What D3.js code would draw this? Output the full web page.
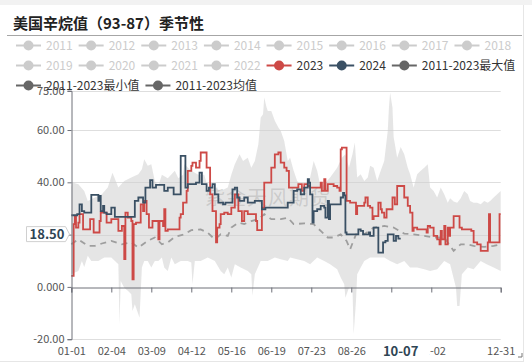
<!DOCTYPE html>
<html>
<head>
<meta charset="utf-8">
<script src="https://cdn.jsdelivr.net/npm/d3@7/dist/d3.min.js"></script>
<style>
html, body { margin: 0; padding: 0; background: #fff; }
svg { display: block; font-family: "Noto Sans CJK SC", "Noto Sans", sans-serif; }
</style>
</head>
<body>
<svg id="chart" width="532" height="363"></svg>
<script>
// categories: every day of a (leap) year as MM-DD
var days = d3.timeDays(new Date(2024, 0, 1), new Date(2025, 0, 1)).map(d3.timeFormat('%m-%d'));

// series values as [day index, value]
var s2023 = [[0,4.2],[2,24],[3,27.1],[4,22.7],[6,24.6],[7,27.8],[9,27.8],[10,22],[14,22],[16,25.9],[19,20.8],[23,20.8],[24,25.2],[25,28.4],[28,28.4],[30,24.6],[34,25.9],[38,25.9],[40,21.4],[43,23.3],[45,10.6],[46,28.4],[48,26.5],[51,25.2],[52,2.9],[53,24],[55,24.6],[59,31.6],[61,29],[62,32.9],[64,27.8],[66,22.7],[69,25.2],[72,25.2],[74,18.2],[75,25.2],[78,23.3],[79,29.7],[80,21.4],[82,22],[91,22],[92,26.5],[93,27.8],[95,32.2],[98,36.7],[99,44.4],[102,46.3],[103,47.5],[106,45.6],[109,48.2],[110,51.4],[113,51.4],[115,45.6],[118,35.4],[120,29],[123,17],[124,22.7],[126,24],[127,27.8],[130,28.4],[133,27.8],[136,30.3],[139,35.4],[142,29],[145,25.2],[147,29],[150,27.8],[155,27.8],[157,25.2],[158,21.7],[161,21.7],[162,30.3],[164,39.9],[167,39.9],[170,45.6],[173,50.7],[176,51.4],[178,47.5],[181,45.6],[183,44.4],[185,38],[193,39.3],[196,36.7],[198,39.3],[201,38.6],[203,38],[209,38],[212,39.9],[213,36.7],[215,41.2],[216,36.7],[218,39.3],[223,38.6],[226,38],[228,36.7],[229,52.6],[230,53.3],[233,53.3],[234,32.9],[237,32.2],[242,27.8],[243,31],[249,32.2],[250,34.2],[252,31],[254,30.3],[256,25.9],[257,27.1],[261,32.2],[263,29.7],[264,28.4],[266,26.5],[268,29.7],[273,34.2],[275,31.6],[277,38.6],[281,38.6],[283,34.2],[286,31],[288,28.4],[290,21.4],[291,22.7],[294,22],[302,20.8],[303,23.3],[305,22.7],[308,19.5],[311,18.2],[313,16.3],[314,21.4],[315,18.2],[317,23.3],[318,16.3],[320,22.7],[321,19.5],[322,22.7],[325,27.1],[328,27.1],[330,22.7],[332,22],[340,21.4],[342,17],[345,16.3],[348,13.8],[352,13.8],[354,17],[355,27.8],[356,17],[363,17],[364,27.8],[365,27.8]];
var s2024 = [[0,27.4],[5,27.8],[7,31.6],[9,29],[11,28.4],[16,28.4],[17,35.2],[22,35.2],[23,32.9],[24,34.8],[25,29],[27,31],[28,28.4],[30,27.8],[34,30.3],[37,26.8],[51,26.8],[54,32.9],[57,34.2],[61,32.2],[63,38],[67,40.8],[69,38],[72,39],[79,36.7],[82,38],[87,35.4],[93,50.1],[97,38],[99,39.3],[106,39.9],[109,43.7],[111,39.3],[115,36.7],[117,38],[120,39.3],[122,35.4],[125,32.2],[129,31.6],[131,32.2],[137,37.3],[139,38],[141,34.2],[143,32.9],[147,34.2],[150,32.2],[156,32.9],[162,29.7],[165,30.3],[180,30.3],[184,32.2],[189,36.7],[192,37.3],[195,35.4],[198,38],[201,41.2],[202,39.9],[203,35.4],[205,24.6],[206,29],[209,29.7],[212,31],[215,30.3],[216,26.5],[218,32.9],[219,25.9],[220,31.6],[226,31.6],[229,34.2],[231,36],[232,35],[233,20.8],[234,20.1],[244,22],[246,21.4],[248,20.1],[253,20.8],[254,19.5],[257,22.7],[261,13.1],[265,17],[267,17.6],[269,20.1],[272,20.1],[274,17.6],[276,19.5],[278,18.5],[280,18.5]];
var sMean = [[0,16.3],[6,18.2],[14,15.7],[20,15.7],[26,16.6],[34,17.6],[43,16.3],[51,17],[57,15],[65,17.6],[71,18.9],[77,16.3],[82,17],[88,19.1],[96,20.1],[102,21.7],[110,22],[116,20.7],[122,18.2],[127,20.1],[133,19.5],[136,22.7],[142,24.6],[147,24],[153,25.2],[159,25.9],[164,27.8],[170,25.9],[178,25.9],[184,26.5],[189,24],[198,24.3],[206,24],[212,21.4],[218,18.9],[223,18.9],[229,20.1],[234,17.6],[237,14.4],[242,20.1],[249,20.1],[257,22.7],[266,23.3],[274,22.7],[283,20.4],[291,20.1],[300,19.5],[308,18.9],[317,18.9],[325,13.8],[331,16.3],[336,16.3],[342,15.7],[351,15.3],[359,15.7],[365,16.3]];
var sMax = [[0,38],[1,39.9],[6,39.3],[11,36.7],[14,32.9],[20,34.2],[26,35.4],[31,38],[35,43.7],[40,38],[45,40.5],[51,41.8],[57,43.1],[60,45],[62,48.8],[65,46.3],[68,46.9],[71,40.5],[74,38.6],[77,42.9],[82,41.6],[88,44.4],[91,41.6],[95,42.9],[96,46.9],[102,44.4],[108,42.9],[113,42.9],[116,38],[122,38],[127,36.7],[133,38],[136,42.9],[139,46.9],[143,50.7],[146,48.2],[150,49.4],[153,45.6],[156,48.2],[159,54.6],[161,64.8],[163,66],[164,72.4],[166,68.6],[167,67.3],[170,67.3],[173,63.5],[176,61],[178,59.7],[181,55.8],[184,48.2],[186,49.4],[189,44.4],[192,40.5],[195,39.3],[198,38],[201,40.5],[203,41.8],[206,48.2],[209,44.4],[212,38],[215,39.3],[220,41.8],[226,45.6],[230,49.4],[233,50.7],[236,45.6],[239,50.7],[241,55.2],[243,41.8],[246,43.1],[249,40.5],[252,41.8],[254,46.3],[257,45.6],[260,40.5],[263,44.4],[266,48.2],[269,59.7],[270,68.6],[271,74.3],[273,68.6],[274,57.3],[277,49.4],[280,53.5],[283,50.7],[286,45.6],[288,43.1],[291,38],[294,43.1],[297,44.4],[300,45.6],[303,46.9],[305,38],[308,36.7],[311,34.2],[314,38],[317,35.4],[320,32.2],[322,33.9],[325,32.7],[328,32.2],[331,33.9],[334,36.7],[337,35.4],[339,32.9],[342,32.2],[345,32.2],[348,31.6],[351,32.9],[354,32.2],[356,32.9],[359,34.2],[362,35.4],[365,36.7]];
var sMin = [[0,4.8],[3,5.5],[6,6.1],[9,9.9],[11,7.6],[14,11.9],[17,9.9],[23,9.9],[28,11.2],[34,11.2],[40,8.7],[41,-14.3],[42,2.3],[45,-0.3],[48,-1.5],[51,-2.8],[52,-9.2],[54,-6.6],[57,-10.5],[58,-11.8],[60,7.4],[62,9.9],[65,9.9],[68,7.4],[71,9.9],[74,9.9],[77,11.2],[79,7.4],[82,6.1],[85,11.2],[88,8.7],[93,9.9],[99,9.9],[102,9.3],[103,1],[105,9.9],[110,9.9],[116,11.2],[122,9.9],[127,6.1],[130,4.8],[133,7.4],[136,3.6],[139,8.7],[144,7.4],[150,6.1],[153,4.8],[154,-3.4],[156,4.8],[161,9.9],[167,9.9],[173,11.2],[178,10.6],[184,9.9],[186,11.2],[192,10.6],[198,9.9],[203,8.7],[209,11.2],[215,9.9],[220,8.7],[226,6.8],[229,3.6],[232,1],[233,-4.1],[236,-0.3],[239,-0.3],[240,-18.1],[242,-5.4],[243,4.8],[246,7.4],[249,9.9],[254,11.2],[260,11.2],[266,11.2],[271,9.9],[277,8.7],[283,9.9],[288,7.4],[294,7.4],[300,6.8],[305,6.1],[311,6.8],[317,9.9],[322,8.7],[327,-0.3],[328,-7.3],[330,-7.3],[332,4.8],[337,7.4],[342,6.8],[348,9.9],[353,8.7],[359,7.4],[365,6.1]];

// tick labels (20 and 09-29 sit under the pointer labels, so they are not printed)
var yTicks = [-20, 0, 20, 40, 60, 75];
var yTickLabels = ['-20.00', '0.000', '', '40.00', '60.00', '75.00'];
var xTickDays = [0, 34, 68, 102, 136, 170, 204, 238, 272, 306, 365];
var xHiddenLabels = [272];
var pointerDay = 280, pointerValue = 18.5;

var legendNames = ['2011','2012','2013','2014','2015','2016','2017','2018',
  '2019','2020','2021','2022','2023','2024','2011-2023最大值',
  '2011-2023最小值','2011-2023均值'];
var legendRows = [[0,1,2,3,4,5,6,7],[8,9,10,11,12,13,14],[15,16]];

var RED = '#cd4946', NAVY = '#3a5064', GREY = '#666', OFF = '#ccc';
function legendColor(i) {
  if (i < 12) return null;
  return [RED, NAVY, GREY, GREY, GREY][i - 12];
}

var svg = d3.select('#chart');

// card background / frame
svg.append('rect').attr('x', 0).attr('y', 0).attr('width', 532).attr('height', 5).attr('fill', '#f2f2f2');
svg.append('line').attr('x1', 523.5).attr('x2', 523.5).attr('y1', 5).attr('y2', 361).attr('stroke', '#e6e6e6');
svg.append('line').attr('x1', 0).attr('x2', 524).attr('y1', 361.5).attr('y2', 361.5).attr('stroke', '#e6e6e6');

// title
svg.append('text').attr('x', 13).attr('y', 28.5).attr('font-size', 15).attr('font-weight', 'bold')
  .attr('fill', '#222').text('美国辛烷值（93-87）季节性');
svg.append('line').attr('x1', 7).attr('x2', 522).attr('y1', 35.5).attr('y2', 35.5)
  .attr('stroke', '#a6a6a6').attr('stroke-width', 1.2);

var x = d3.scalePoint().domain(days).range([71.3, 500.7]);
var y = d3.scaleLinear().domain([-20, 75]).range([339.2, 90.8]);
var px = function (d) { return x(days[d[0]]); };
var py = function (d) { return y(d[1]); };

// grid lines
svg.append('g').selectAll('line').data(yTicks.filter(function (v) { return v !== 0; })).join('line')
  .attr('x1', 71.3).attr('x2', 500.7)
  .attr('y1', function (v) { return Math.round(y(v)) + 0.5; })
  .attr('y2', function (v) { return Math.round(y(v)) + 0.5; })
  .attr('stroke', '#dedede');

// min-max band
var band = sMax.concat(sMin.slice().reverse());
svg.append('path')
  .attr('d', d3.line().x(px).y(py)(band) + 'Z')
  .attr('fill', '#cfcfcf').attr('fill-opacity', 0.55);

// watermark
svg.append('text').attr('x', 205).attr('y', 205).attr('font-size', 20)
  .attr('fill', '#999').attr('fill-opacity', 0.35).attr('letter-spacing', 1).text('紫金天风期货');

// mean
svg.append('path')
  .attr('d', d3.line().x(px).y(py)(sMean))
  .attr('fill', 'none').attr('stroke', '#9e9e9e').attr('stroke-width', 1.8).attr('stroke-dasharray', '6,5');

var stepLine = d3.line().x(px).y(py).curve(d3.curveStepAfter);
svg.append('path').attr('d', stepLine(s2023))
  .attr('fill', 'none').attr('stroke', RED).attr('stroke-width', 1.8);
svg.append('path').attr('d', stepLine(s2024))
  .attr('fill', 'none').attr('stroke', NAVY).attr('stroke-width', 1.8);

// y axis
var yAxis = svg.append('g').attr('transform', 'translate(71.5,0)')
  .call(d3.axisLeft(y).tickValues(yTicks).tickSizeOuter(0).tickSize(4).tickPadding(3)
    .tickFormat(function (v) { return yTickLabels[yTicks.indexOf(v)]; }));
yAxis.select('.domain').attr('stroke', '#6e7079');
yAxis.selectAll('.tick line').attr('stroke', '#6e7079');
yAxis.selectAll('.tick text').attr('fill', '#555').attr('font-size', 11)
  .attr('font-family', '"Noto Sans CJK SC", "Noto Sans", sans-serif');

// x axis line at zero, with ticks
var xAxis = svg.append('g').attr('transform', 'translate(0,' + (Math.round(y(0)) + 0.5) + ')')
  .call(d3.axisBottom(x).tickValues(xTickDays.map(function (i) { return days[i]; }))
    .tickSizeOuter(0).tickSize(5).tickFormat(''));
xAxis.select('.domain').attr('stroke', '#6e7079');
xAxis.selectAll('.tick line').attr('stroke', '#6e7079');

// x labels at the bottom of the grid
var labelDays = xTickDays.filter(function (i) { return xHiddenLabels.indexOf(i) < 0; });
var xLab = svg.append('g').attr('transform', 'translate(0,339)')
  .call(d3.axisBottom(x).tickValues(labelDays.map(function (i) { return days[i]; }))
    .tickSize(0).tickPadding(8));
xLab.select('.domain').remove();
xLab.selectAll('.tick text').attr('fill', '#555').attr('font-size', 11)
  .attr('font-family', '"Noto Sans CJK SC", "Noto Sans", sans-serif');

// axis pointer labels
var ptrX = x(days[pointerDay]);
svg.append('rect').attr('x', ptrX - 29).attr('y', 342).attr('width', 58).attr('height', 18).attr('fill', '#fff');
svg.append('text').attr('x', ptrX).attr('y', 356).attr('text-anchor', 'middle')
  .attr('font-size', 13).attr('font-weight', 'bold').attr('fill', '#2f4554').text(days[pointerDay]);

var ptrY = y(20) - 0.5;
svg.append('path')
  .attr('d', 'M26.5,' + (ptrY - 7.5) + 'H65.5L69.5,' + ptrY + 'L65.5,' + (ptrY + 7.5) + 'H26.5Z')
  .attr('fill', '#fff').attr('stroke', '#d0d0d0');
svg.append('text').attr('x', 47).attr('y', ptrY + 4.5).attr('text-anchor', 'middle')
  .attr('font-size', 13).attr('font-weight', 'bold').attr('fill', '#2f4554').text(pointerValue.toFixed(2));

// legend
var rowY = [45.5, 65.5, 85.5];
legendRows.forEach(function (row, r) {
  var lx = 16;
  row.forEach(function (i) {
    var c = legendColor(i) || OFF;
    var g = svg.append('g').attr('transform', 'translate(' + lx + ',' + rowY[r] + ')');
    g.append('line').attr('x1', 0).attr('x2', 25).attr('stroke', c).attr('stroke-width', 2);
    g.append('circle').attr('cx', 12.5).attr('r', 5).attr('fill', c);
    var t = g.append('text').attr('x', 30).attr('dy', '0.35em').attr('font-size', 12)
      .attr('fill', legendColor(i) ? '#333' : OFF).text(legendNames[i]);
    lx += 30 + t.node().getComputedTextLength() + 6;
  });
});

// resize corner
svg.append('path').attr('d', 'M522,353V357H518').attr('fill', 'none').attr('stroke', '#777');
</script>
</body>
</html>
